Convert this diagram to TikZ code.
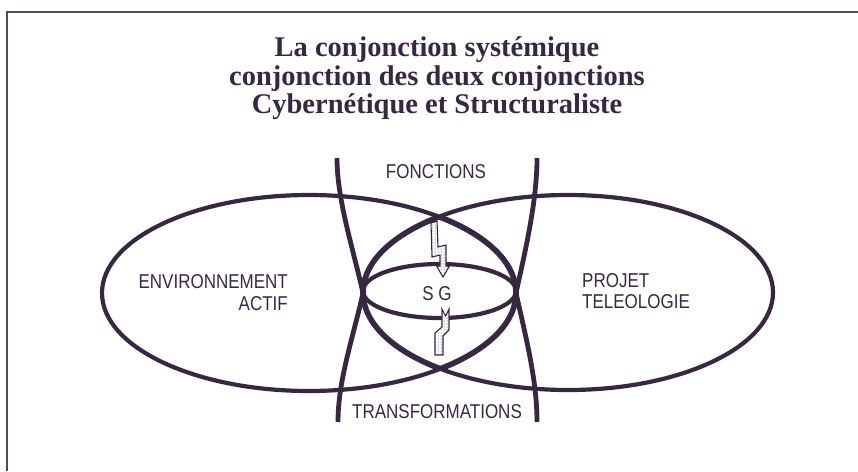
\documentclass[tikz,border=0pt]{standalone}
\usepackage{fontspec}
\setmainfont{Liberation Serif}
\newfontfamily\labfont[FakeStretch=0.85]{Liberation Sans}
\usetikzlibrary{patterns}
\definecolor{ink}{RGB}{55,40,65}
\begin{document}
\begin{tikzpicture}[x=1pt,y=-1pt,
  ttl/.style={font=\fontsize{28.5}{28.5}\selectfont\bfseries, text=ink, inner sep=0pt, anchor=base},
  lab/.style={font=\labfont\fontsize{20}{20}\selectfont, text=ink, inner sep=0pt},
  bigline/.style={draw=ink, line width=4.2pt},
  lensline/.style={draw=ink, line width=5.6pt},
  barline/.style={draw=ink, line width=4.8pt},
  boltshape/.style={draw=ink, line width=1.1pt, line join=miter, preaction={fill=white}, pattern=dots, pattern color=ink}]
\useasboundingbox (0,0) rectangle (858,471);
% frame
\draw[ink!85, line width=1.4pt] (7,471) -- (7,12) -- (858,12);
% title
\node[ttl] (t1) at (437,56.7) {La conjonction systémique};
\node[ttl] (t2) at (437,85) {conjonction des deux conjonctions};
\node[ttl] (t3) at (437,113) {Cybernétique et Structuraliste};
% big ellipses
\draw[bigline] (309,293) ellipse [x radius=207, y radius=98];
\draw[bigline] (568,292.5) ellipse [x radius=205, y radius=97.5];
% thicker lens
\begin{scope}
  \clip (568,292.5) ellipse [x radius=205, y radius=97.5];
  \draw[lensline] (309,293) ellipse [x radius=207, y radius=98];
\end{scope}
\begin{scope}
  \clip (309,293) ellipse [x radius=207, y radius=98];
  \draw[lensline] (568,292.5) ellipse [x radius=205, y radius=97.5];
\end{scope}
% small ellipse
\draw[bigline] (439.5,291) ellipse [x radius=76.5, y radius=27];
% bars
\draw[barline] (337,158) .. controls (337,200) and (353,248) .. (363,293)
               .. controls (353,338) and (338,380) .. (338,422);
\draw[barline] (537,158) .. controls (537,200) and (526,248) .. (516,293)
               .. controls (526,338) and (537,380) .. (537,422);
% bolts
\draw[boltshape] (431,223) -- (437,221) -- (438,247) -- (446,245) -- (446,266)
  -- (449.5,266) -- (443,277) -- (436.5,266) -- (440,266) -- (440,255) -- (432,257) -- cycle;
\draw[boltshape] (442,309) -- (445.5,316) -- (449,309) -- (449,330) -- (443,336)
  -- (443,355) -- (435,355) -- (435,333) -- (442,327) -- cycle;
% labels
\node[lab, anchor=base] (fonc) at (436,178) {FONCTIONS};
\node[lab, anchor=base] (trans) at (437,418) {TRANSFORMATIONS};
\node[lab, anchor=base] (sg) at (437,300) {S G};
\node[lab, anchor=base east] (env) at (288,288) {ENVIRONNEMENT};
\node[lab, anchor=base east] (act) at (288,310) {ACTIF};
\node[lab, anchor=base west] (proj) at (582,287) {PROJET};
\node[lab, anchor=base west] (tele) at (582,308) {TELEOLOGIE};
\end{tikzpicture}
\end{document}
